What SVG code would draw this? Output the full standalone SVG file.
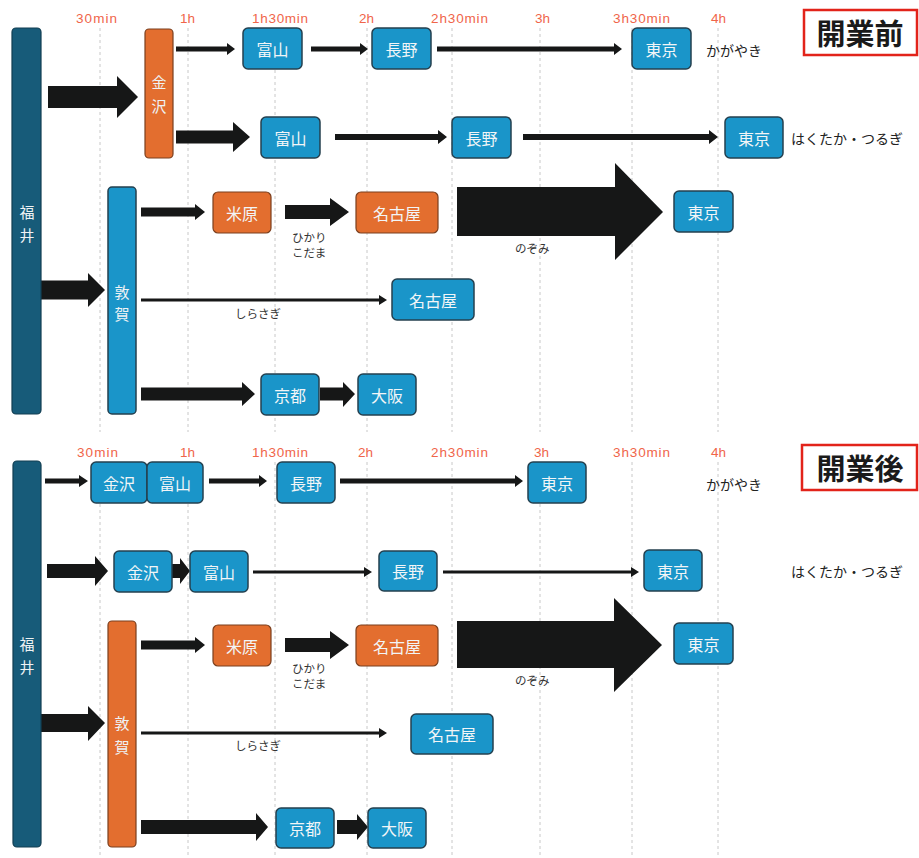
<svg xmlns="http://www.w3.org/2000/svg" width="919" height="858" viewBox="0 0 919 858">
<style>
.grid{stroke:#c8c8c8;stroke-width:1;stroke-dasharray:3 3}
.gl{font-family:"Liberation Sans","Noto Sans",sans-serif;font-size:13.5px;fill:#f0654a}
.b{fill:#1a95c9;stroke:#24404f;stroke-width:1.5}
.o{fill:#e36e2f;stroke:#7a3f1e;stroke-width:1.2}
.d{fill:#175b79;stroke:#123e52;stroke-width:1.2}
.t{font-family:"Noto Sans CJK JP","Noto Sans",sans-serif;font-size:16px;fill:#f2f5f7;text-anchor:middle;dominant-baseline:central}
.vt{font-family:"Noto Sans CJK JP","Noto Sans",sans-serif;font-size:15px;fill:#eef2f4;text-anchor:middle;dominant-baseline:central}
.lab{font-family:"Noto Sans CJK JP","Noto Sans",sans-serif;font-size:14px;fill:#222;dominant-baseline:central}
.sl{font-family:"Noto Sans CJK JP","Noto Sans",sans-serif;font-size:11.5px;fill:#333;dominant-baseline:central}
.arr{fill:#161717}
.title{fill:#fff;stroke:#e2231a;stroke-width:2.5}
.tt{font-family:"Noto Sans CJK JP","Noto Sans",sans-serif;font-size:29px;fill:#1a1a1a;text-anchor:middle;dominant-baseline:central;font-weight:bold}
</style>
<rect width="919" height="858" fill="#fff"/>
<g id="grid">
<line class="grid" x1="100" y1="28" x2="100" y2="432"/>
<line class="grid" x1="188" y1="28" x2="188" y2="432"/>
<line class="grid" x1="275" y1="28" x2="275" y2="432"/>
<line class="grid" x1="367" y1="28" x2="367" y2="432"/>
<line class="grid" x1="452" y1="28" x2="452" y2="432"/>
<line class="grid" x1="540" y1="28" x2="540" y2="432"/>
<line class="grid" x1="632" y1="28" x2="632" y2="432"/>
<line class="grid" x1="718" y1="28" x2="718" y2="432"/>
<line class="grid" x1="100" y1="462" x2="100" y2="858"/>
<line class="grid" x1="188" y1="462" x2="188" y2="858"/>
<line class="grid" x1="275" y1="462" x2="275" y2="858"/>
<line class="grid" x1="367" y1="462" x2="367" y2="858"/>
<line class="grid" x1="452" y1="462" x2="452" y2="858"/>
<line class="grid" x1="540" y1="462" x2="540" y2="858"/>
<line class="grid" x1="632" y1="462" x2="632" y2="858"/>
<line class="grid" x1="718" y1="462" x2="718" y2="858"/>
<text class="gl" x="76" y="23" textLength="41">30min</text>
<text class="gl" x="180" y="23" textLength="15">1h</text>
<text class="gl" x="252" y="23" textLength="56">1h30min</text>
<text class="gl" x="359" y="23" textLength="15">2h</text>
<text class="gl" x="431" y="23" textLength="57">2h30min</text>
<text class="gl" x="535" y="23" textLength="15">3h</text>
<text class="gl" x="613" y="23" textLength="57">3h30min</text>
<text class="gl" x="711" y="23" textLength="15">4h</text>
<text class="gl" x="77" y="457" textLength="41">30min</text>
<text class="gl" x="180" y="457" textLength="15">1h</text>
<text class="gl" x="252" y="457" textLength="56">1h30min</text>
<text class="gl" x="358" y="457" textLength="15">2h</text>
<text class="gl" x="431" y="457" textLength="57">2h30min</text>
<text class="gl" x="534" y="457" textLength="15">3h</text>
<text class="gl" x="613" y="457" textLength="57">3h30min</text>
<text class="gl" x="711" y="457" textLength="15">4h</text>
</g>
<g id="connectors">
<polygon class="arr" points="48,86 117,86 117,76 138,97 117,118 117,108 48,108"/>
<polygon class="arr" points="176,46.5 227,46.5 227,43 235,49 227,55 227,51.5 176,51.5"/>
<polygon class="arr" points="311,46.5 360,46.5 360,43 368,49 360,55 360,51.5 311,51.5"/>
<polygon class="arr" points="437,46.5 614,46.5 614,43 622,49 614,55 614,51.5 437,51.5"/>
<polygon class="arr" points="176,130.5 233,130.5 233,122 250,137 233,152 233,143.5 176,143.5"/>
<polygon class="arr" points="335,134 438,134 438,130 447,137 438,144 438,140 335,140"/>
<polygon class="arr" points="523,134 709,134 709,130 718,137 709,144 709,140 523,140"/>
<polygon class="arr" points="41,280.5 88,280.5 88,273 105,290 88,307 88,299.5 41,299.5"/>
<polygon class="arr" points="141,207.5 195,207.5 195,204 205,212 195,220 195,216.5 141,216.5"/>
<polygon class="arr" points="285,205 330,205 330,198 349,212 330,226 330,219 285,219"/>
<polygon class="arr" points="457,187 615,187 615,163 663,212 615,260 615,236 457,236"/>
<polygon class="arr" points="141,298.5 379,298.5 379,295 387,300 379,305 379,301.5 141,301.5"/>
<polygon class="arr" points="141,387.5 242,387.5 242,382 255,394 242,406 242,400.5 141,400.5"/>
<polygon class="arr" points="320,387.5 343,387.5 343,382 355,394 343,407 343,400.5 320,400.5"/>
<polygon class="arr" points="45,478.5 79,478.5 79,475 88,481 79,487 79,483.5 45,483.5"/>
<polygon class="arr" points="209,478.5 259,478.5 259,475 267,481 259,487 259,483.5 209,483.5"/>
<polygon class="arr" points="340,478.5 515,478.5 515,475 523,481 515,487 515,483.5 340,483.5"/>
<polygon class="arr" points="47,564 95,564 95,556 108,571 95,586 95,578 47,578"/>
<polygon class="arr" points="172,564 180,564 180,558 190,571 180,584 180,578 172,578"/>
<polygon class="arr" points="253,570.5 364,570.5 364,567 372,572 364,577 364,573.5 253,573.5"/>
<polygon class="arr" points="443,570.5 631,570.5 631,567 639,572 631,577 631,573.5 443,573.5"/>
<polygon class="arr" points="41,714 88,714 88,706 105,723 88,741 88,732 41,732"/>
<polygon class="arr" points="141,640.5 195,640.5 195,637 205,645 195,653 195,649.5 141,649.5"/>
<polygon class="arr" points="285,638 330,638 330,631 349,645 330,659 330,652 285,652"/>
<polygon class="arr" points="457,621 614,621 614,598 662,645 614,692 614,668 457,668"/>
<polygon class="arr" points="141,731.5 379,731.5 379,728 387,733 379,738 379,734.5 141,734.5"/>
<polygon class="arr" points="141,820 256,820 256,813 268,827 256,841 256,834 141,834"/>
<polygon class="arr" points="337,820 357,820 357,814 368,827 357,840 357,834 337,834"/>
</g>
<g id="labels">
<text class="lab" x="706" y="50">かがやき</text>
<text class="lab" x="791" y="138">はくたか・つるぎ</text>
<text class="sl" x="292" y="237">ひかり</text>
<text class="sl" x="292" y="252">こだま</text>
<text class="sl" x="515" y="248">のぞみ</text>
<text class="sl" x="235" y="313">しらさぎ</text>
<text class="lab" x="706" y="484">かがやき</text>
<text class="lab" x="791" y="571">はくたか・つるぎ</text>
<text class="sl" x="292" y="668">ひかり</text>
<text class="sl" x="292" y="683">こだま</text>
<text class="sl" x="515" y="680">のぞみ</text>
<text class="sl" x="235" y="745">しらさぎ</text>
</g>
<g id="title-before"><rect class="title" x="804" y="10" width="113" height="45"/><text class="tt" x="860" y="32">開業前</text></g>
<g id="title-after"><rect class="title" x="802" y="445" width="115" height="45"/><text class="tt" x="860" y="467">開業後</text></g>
<g id="fukui1"><rect class="d" x="12" y="28" width="29" height="386" rx="4"/><text class="vt" x="27" y="211">福</text><text class="vt" x="27" y="234">井</text></g>
<g id="kanazawa1"><rect class="o" x="145" y="29" width="28" height="129" rx="4"/><text class="vt" x="159" y="81">金</text><text class="vt" x="159" y="105">沢</text></g>
<g id="toyama1a"><rect class="b" x="243" y="28" width="59" height="41" rx="5"/><text class="t" x="272.5" y="48.5">富山</text></g>
<g id="nagano1a"><rect class="b" x="372" y="28" width="59" height="41" rx="5"/><text class="t" x="401.5" y="48.5">長野</text></g>
<g id="tokyo1a"><rect class="b" x="632" y="28" width="59" height="41" rx="5"/><text class="t" x="661.5" y="48.5">東京</text></g>
<g id="toyama1b"><rect class="b" x="261" y="117" width="59" height="41" rx="5"/><text class="t" x="290.5" y="137.5">富山</text></g>
<g id="nagano1b"><rect class="b" x="452" y="117" width="59" height="41" rx="5"/><text class="t" x="481.5" y="137.5">長野</text></g>
<g id="tokyo1b"><rect class="b" x="725" y="117" width="58" height="41" rx="5"/><text class="t" x="754" y="137.5">東京</text></g>
<g id="tsuruga1"><rect class="b" x="108" y="187" width="28" height="227" rx="4"/><text class="vt" x="122" y="291">敦</text><text class="vt" x="122" y="313">賀</text></g>
<g id="maibara1"><rect class="o" x="213" y="192" width="58" height="41" rx="5"/><text class="t" x="242" y="212.5">米原</text></g>
<g id="nagoya1a"><rect class="o" x="356" y="192" width="82" height="41" rx="5"/><text class="t" x="397" y="212.5">名古屋</text></g>
<g id="tokyo1c"><rect class="b" x="674" y="191" width="59" height="41" rx="5"/><text class="t" x="703.5" y="211.5">東京</text></g>
<g id="nagoya1b"><rect class="b" x="392" y="279" width="82" height="41" rx="5"/><text class="t" x="433" y="299.5">名古屋</text></g>
<g id="kyoto1"><rect class="b" x="261" y="374" width="58" height="41" rx="5"/><text class="t" x="290" y="394.5">京都</text></g>
<g id="osaka1"><rect class="b" x="358" y="374" width="58" height="41" rx="5"/><text class="t" x="387" y="394.5">大阪</text></g>
<g id="fukui2"><rect class="d" x="13" y="461" width="28" height="386" rx="4"/><text class="vt" x="27" y="643">福</text><text class="vt" x="27" y="666">井</text></g>
<g id="kanazawa2a"><rect class="b" x="91" y="462" width="56" height="41" rx="5"/><text class="t" x="119" y="482.5">金沢</text></g>
<g id="toyama2a"><rect class="b" x="147" y="462" width="56" height="41" rx="5"/><text class="t" x="175" y="482.5">富山</text></g>
<g id="nagano2a"><rect class="b" x="277" y="462" width="58" height="41" rx="5"/><text class="t" x="306" y="482.5">長野</text></g>
<g id="tokyo2a"><rect class="b" x="528" y="462" width="58" height="41" rx="5"/><text class="t" x="557" y="482.5">東京</text></g>
<g id="kanazawa2b"><rect class="b" x="114" y="551" width="58" height="41" rx="5"/><text class="t" x="143" y="571.5">金沢</text></g>
<g id="toyama2b"><rect class="b" x="190" y="551" width="58" height="41" rx="5"/><text class="t" x="219" y="571.5">富山</text></g>
<g id="nagano2b"><rect class="b" x="379" y="551" width="58" height="40" rx="5"/><text class="t" x="408" y="571">長野</text></g>
<g id="tokyo2b"><rect class="b" x="644" y="550" width="58" height="41" rx="5"/><text class="t" x="673" y="570.5">東京</text></g>
<g id="tsuruga2"><rect class="o" x="108" y="621" width="28" height="226" rx="4"/><text class="vt" x="122" y="722">敦</text><text class="vt" x="122" y="746">賀</text></g>
<g id="maibara2"><rect class="o" x="213" y="625" width="58" height="41" rx="5"/><text class="t" x="242" y="645.5">米原</text></g>
<g id="nagoya2a"><rect class="o" x="356" y="625" width="82" height="41" rx="5"/><text class="t" x="397" y="645.5">名古屋</text></g>
<g id="tokyo2c"><rect class="b" x="674" y="623" width="59" height="41" rx="5"/><text class="t" x="703.5" y="643.5">東京</text></g>
<g id="nagoya2b"><rect class="b" x="411" y="714" width="82" height="40" rx="5"/><text class="t" x="452" y="734">名古屋</text></g>
<g id="kyoto2"><rect class="b" x="276" y="808" width="58" height="40" rx="5"/><text class="t" x="305" y="828">京都</text></g>
<g id="osaka2"><rect class="b" x="368" y="808" width="58" height="40" rx="5"/><text class="t" x="397" y="828">大阪</text></g>
</svg>
